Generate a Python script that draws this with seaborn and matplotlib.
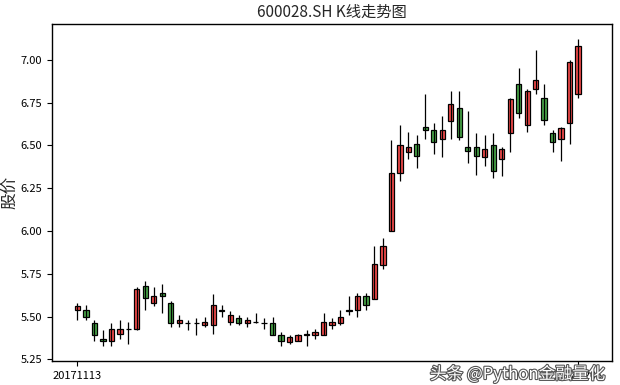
import numpy as np
import pandas as pd
import matplotlib
matplotlib.use("Agg")
import matplotlib.pyplot as plt
import matplotlib.patheffects as pe
import seaborn as sns

# 600028.SH daily prices, 2017-11-13 .. 2018-02-05
opens = [5.54, 5.54, 5.46, 5.37, 5.36, 5.40, 5.43, 5.43, 5.68, 5.58,
         5.64, 5.58, 5.46, 5.46, 5.46, 5.45, 5.45, 5.53, 5.47, 5.49,
         5.46, 5.47, 5.46, 5.46, 5.39, 5.35, 5.36, 5.39, 5.39, 5.39,
         5.45, 5.46, 5.53, 5.54, 5.62, 5.60, 5.80, 6.00, 6.34, 6.46,
         6.51, 6.61, 6.59, 6.54, 6.64, 6.72, 6.49, 6.49, 6.43, 6.50,
         6.42, 6.57, 6.86, 6.62, 6.83, 6.78, 6.57, 6.54, 6.63, 6.80]
closes = [5.56, 5.50, 5.39, 5.36, 5.43, 5.43, 5.43, 5.66, 5.61, 5.62,
          5.62, 5.46, 5.48, 5.46, 5.46, 5.47, 5.57, 5.54, 5.51, 5.46,
          5.48, 5.47, 5.46, 5.39, 5.36, 5.38, 5.39, 5.40, 5.41, 5.47,
          5.47, 5.50, 5.54, 5.62, 5.57, 5.81, 5.91, 6.34, 6.50, 6.49,
          6.44, 6.59, 6.52, 6.59, 6.74, 6.55, 6.47, 6.44, 6.48, 6.35,
          6.48, 6.77, 6.69, 6.82, 6.88, 6.65, 6.52, 6.60, 6.99, 7.08]
highs = [5.58, 5.57, 5.48, 5.42, 5.46, 5.48, 5.47, 5.67, 5.71, 5.67,
         5.69, 5.59, 5.51, 5.48, 5.49, 5.50, 5.63, 5.57, 5.53, 5.51,
         5.50, 5.52, 5.49, 5.50, 5.41, 5.39, 5.40, 5.42, 5.43, 5.52,
         5.49, 5.54, 5.62, 5.64, 5.64, 5.91, 5.96, 6.53, 6.62, 6.58,
         6.56, 6.80, 6.63, 6.67, 6.82, 6.82, 6.70, 6.57, 6.56, 6.57,
         6.49, 6.78, 6.95, 6.83, 7.06, 6.86, 6.59, 6.61, 7.00, 7.12]
lows = [5.48, 5.48, 5.36, 5.33, 5.33, 5.37, 5.34, 5.42, 5.54, 5.56,
        5.52, 5.44, 5.44, 5.42, 5.39, 5.44, 5.40, 5.50, 5.45, 5.45,
        5.44, 5.46, 5.43, 5.39, 5.33, 5.34, 5.36, 5.33, 5.37, 5.39,
        5.43, 5.45, 5.51, 5.50, 5.54, 5.60, 5.78, 6.00, 6.29, 6.42,
        6.37, 6.54, 6.45, 6.43, 6.54, 6.53, 6.40, 6.33, 6.38, 6.31,
        6.32, 6.46, 6.66, 6.58, 6.80, 6.62, 6.46, 6.41, 6.51, 6.78]
tick_labels = ['20171113', '20180205']

df = pd.DataFrame({'open': opens, 'close': closes, 'high': highs, 'low': lows})
df['x'] = np.arange(len(df))
df['up'] = df['close'] > df['open']

sns.set_theme(style="ticks", rc={
    "axes.edgecolor": "black",
    "axes.linewidth": 1.0,
    "xtick.color": "black",
    "ytick.color": "black",
    "xtick.major.size": 3.5,
    "ytick.major.size": 3.5,
    "xtick.major.width": 0.8,
    "ytick.major.width": 0.8,
})
plt.rcParams['font.family'] = ['Noto Sans CJK SC', 'DejaVu Sans']

fig = plt.figure(figsize=(6.2, 3.85), dpi=100)
ax = fig.add_axes([52/620, 1 - 361/385, 560/620, 337/385])

# wicks first, bodies on top (red = up, green = down)
ax.vlines(df['x'], df['low'], df['high'], color='black', linewidth=0.9)
body_colors = np.where(df['up'], '#f24a4a', '#48a448')
ax.bar(df['x'], (df['close'] - df['open']).abs(),
       bottom=df[['open', 'close']].min(axis=1),
       width=0.62, color=body_colors, edgecolor='black', linewidth=0.9)

n = len(df)
ax.set_xlim(-0.05 * n, 1.05 * n)
lo, hi = df['low'].min(), df['high'].max()
pad = 0.05 * (hi - lo)
ax.set_ylim(lo - pad, hi + pad)
ax.set_yticks([5.25, 5.50, 5.75, 6.00, 6.25, 6.50, 6.75, 7.00])
ax.set_yticklabels([f'{v:.2f}' for v in ax.get_yticks()])
ax.set_xticks([0, n - 1])
ax.set_xticklabels(tick_labels)
ax.tick_params(labelsize=8)

ax.set_title('600028.SH K线走势图', fontsize=11, pad=5)
ax.set_ylabel('股价', fontsize=12, labelpad=2)

# site watermark, drawn over the last tick label as in the source image
fig.text(605/620, 2/385, '头条 @Python金融量化', ha='right', va='bottom',
         fontsize=12, color='white',
         path_effects=[pe.withStroke(linewidth=1.6, foreground='#555555')])

fig.savefig('out.png', dpi=100)
